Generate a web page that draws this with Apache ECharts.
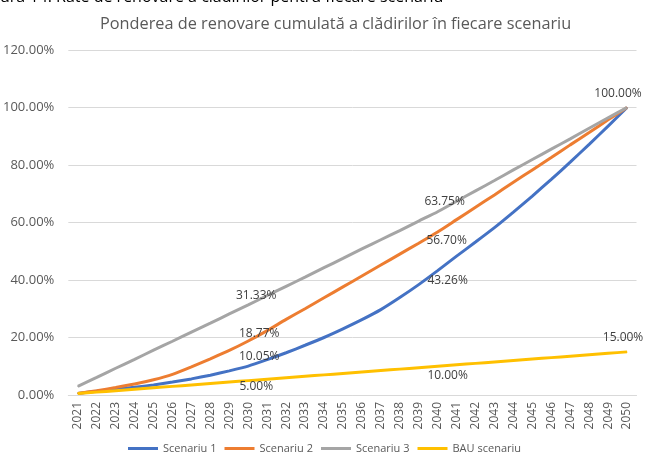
<!DOCTYPE html>
<html>
<head>
<meta charset="utf-8">
<script src="https://cdn.jsdelivr.net/npm/echarts@6/dist/echarts.min.js"></script>
<style>html,body{margin:0;padding:0;background:#fff;}#c{width:645px;height:454px;}</style>
</head>
<body>
<div id="c"></div>
<script>
var years = ['2021','2022','2023','2024','2025','2026','2027','2028','2029','2030','2031','2032','2033','2034','2035','2036','2037','2038','2039','2040','2041','2042','2043','2044','2045','2046','2047','2048','2049','2050'];
var scenariu1 = [0.5,1.3,2.0,2.7,3.5,4.5,5.6,6.9,8.4,10.05,12.3,14.7,17.3,20.0,23.0,26.2,29.7,33.9,38.4,43.26,48.3,53.2,58.2,63.6,69.2,75.0,81.0,87.2,93.5,100];
var scenariu2 = [0.5,1.5,2.6,3.8,5.3,7.2,9.8,12.6,15.5,18.77,22.4,26.3,30.0,33.8,37.6,41.4,45.2,49.0,52.8,56.70,61.0,65.3,69.6,74.0,78.3,82.6,87.0,91.3,95.7,100];
var scenariu3 = [3.0,6.1,9.3,12.4,15.6,18.7,21.9,25.0,28.2,31.33,34.6,37.8,41.0,44.3,47.5,50.8,54.0,57.2,60.5,63.75,67.4,71.0,74.6,78.3,81.9,85.5,89.1,92.8,96.4,100];
var bau = [0.5,1.0,1.5,2.0,2.5,3.0,3.5,4.0,4.5,5.0,5.5,6.0,6.5,7.0,7.5,8.0,8.5,9.0,9.5,10.0,10.5,11.0,11.5,12.0,12.5,13.0,13.5,14.0,14.5,15.0];
var seriesNames = ['Scenariu 1','Scenariu 2','Scenariu 3','BAU scenariu'];
var yTicks = [0,20,40,60,80,100,120];

var labelSpec = [
  {9:[11,2], 19:[10,21]},
  {9:[11,4], 19:[9,20]},
  {9:[8,2], 19:[7,1], 29:[-9,-2]},
  {9:[8,17], 19:[10,21], 29:[-4,-3]}
];
var colors = ['#4472C4','#ED7D31','#A5A5A5','#FFC000'];
var allData = [scenariu1, scenariu2, scenariu3, bau];
var FONT = 'Open Sans';

function buildData(arr, spec){
  return arr.map(function(v,i){
    if (spec[i]) {
      return {value:v, label:{show:true, position:'top', offset:spec[i],
        formatter:function(p){return p.value.toFixed(2)+'%';},
        color:'#404040', fontSize:12, fontFamily:FONT}};
    }
    return v;
  });
}

var chart = echarts.init(document.getElementById('c'), null, {renderer:'canvas'});
chart.setOption({
  animation:false,
  backgroundColor:'#fff',
  title:{text:'Ponderea de renovare cumulată a clădirilor în fiecare scenariu', left:95, top:11,
    textStyle:{fontSize:16.3, fontWeight:'normal', color:'#595959', fontFamily:FONT}},
  graphic:[{type:'text', left:0, top:-11, style:{text:'ura 14: Rate de renovare a clădirilor pentru fiecare scenariu', fontSize:16, fill:'#000', fontFamily:FONT}}],
  legend:{top:438, left:123, itemWidth:30, itemHeight:3, itemGap:8, icon:'rect',
    textStyle:{fontSize:11, color:'#595959', fontFamily:FONT}, data:seriesNames},
  grid:{left:67.5, right:8.5, top:50, bottom:59},
  xAxis:{type:'category', data:years, boundaryGap:true,
    axisLine:{lineStyle:{color:'#D9D9D9'}}, axisTick:{show:false},
    axisLabel:{rotate:90, interval:0, fontSize:12, color:'#595959', fontFamily:FONT, margin:7}},
  yAxis:{type:'value', min:0, max:120, interval:20,
    axisLine:{show:false}, axisTick:{show:false},
    splitLine:{lineStyle:{color:'#D9D9D9'}},
    axisLabel:{fontSize:13, color:'#595959', fontFamily:FONT, margin:14,
      formatter:function(v){return v.toFixed(2)+'%';}}},
  series: allData.map(function(arr,k){
    return {name:seriesNames[k], type:'line', data:buildData(arr,labelSpec[k]),
      showSymbol:true, symbol:'circle', symbolSize:1, smooth:0.2, color:colors[k],
      itemStyle:{color:colors[k]},
      lineStyle:{width:3, color:colors[k]}, z: k===3?5:2};
  })
});
</script>
</body>
</html>
